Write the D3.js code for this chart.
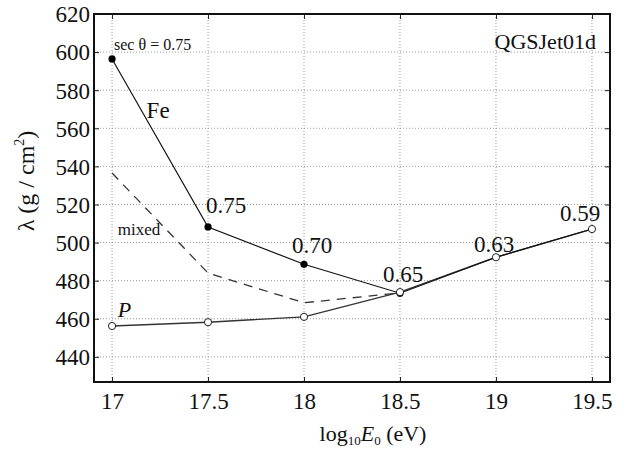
<!DOCTYPE html>
<html>
<head>
<meta charset="utf-8">
<script src="https://cdn.jsdelivr.net/npm/d3@7"></script>
<style>
  body { margin: 0; background: #fff; }
  svg text { font-family: "Liberation Serif", "Times New Roman", Times, Tinos, "Nimbus Roman", "Nimbus Roman No9 L", FreeSerif, "DejaVu Serif", serif !important; fill: #111; }
</style>
</head>
<body>
<script>
// Chart data
const energies = [17, 17.5, 18, 18.5, 19, 19.5];
const feValues = [596.4, 508.2, 488.6, 473.4, 492.3, 507.1];
const pValues = [456.2, 458.2, 461.0, 474.0, 492.3, 507.1];
const mixedE = [17, 17.5, 18, 18.5];
const mixedValues = [536.5, 484.0, 468.4, 473.6];
const secLabels = ["0.75", "0.75", "0.70", "0.65", "0.63", "0.59"];
const xTicks = [17, 17.5, 18, 18.5, 19, 19.5];
const yTicks = [440, 460, 480, 500, 520, 540, 560, 580, 600, 620];

const width = 623, height = 449;
const margin = {top: 14, right: 13, bottom: 67, left: 94};
const iw = width - margin.left - margin.right;
const ih = height - margin.top - margin.bottom;

const svg = d3.select("body").append("svg")
    .attr("width", width)
    .attr("height", height);

const g = svg.append("g").attr("transform", `translate(${margin.left},${margin.top})`);

const x = d3.scaleLinear().domain([16.906, 19.594]).range([0, iw]);
const y = d3.scaleLinear().domain([426.8, 620]).range([ih, 0]);

// dotted grid
g.append("g").selectAll("line")
    .data(xTicks).enter().append("line")
    .attr("x1", d => x(d)).attr("x2", d => x(d))
    .attr("y1", 0).attr("y2", ih)
    .attr("stroke", "#9a9a9a").attr("stroke-width", 1)
    .attr("stroke-dasharray", "1,2");
g.append("g").selectAll("line")
    .data(yTicks).enter().append("line")
    .attr("x1", 0).attr("x2", iw)
    .attr("y1", d => y(d)).attr("y2", d => y(d))
    .attr("stroke", "#9a9a9a").attr("stroke-width", 1)
    .attr("stroke-dasharray", "1,2");

// axes with inward ticks
const xAxis = g.append("g").attr("transform", `translate(0,${ih})`)
    .call(d3.axisBottom(x).tickValues(xTicks).tickFormat(d3.format("")).tickSize(-5).tickPadding(11));
const yAxis = g.append("g")
    .call(d3.axisLeft(y).tickValues(yTicks).tickFormat(d3.format("")).tickSize(-5).tickPadding(4));
g.append("g").call(d3.axisTop(x).tickValues(xTicks).tickFormat("").tickSize(-5));
g.append("g").attr("transform", `translate(${iw},0)`)
    .call(d3.axisRight(y).tickValues(yTicks).tickFormat("").tickSize(-5));

g.selectAll(".domain").remove();
g.selectAll(".tick line").attr("stroke", "#222");
xAxis.selectAll("text").attr("font-size", 23);
yAxis.selectAll("text").attr("font-size", 23).attr("dy", "0.34em");

// frame
g.append("rect")
    .attr("width", iw).attr("height", ih)
    .attr("fill", "none").attr("stroke", "#111").attr("stroke-width", 2);

const line = d3.line().x(d => x(d[0])).y(d => y(d[1]));

// mixed (dashed)
g.append("path")
    .datum(mixedE.map((e, i) => [e, mixedValues[i]]))
    .attr("d", line)
    .attr("fill", "none").attr("stroke", "#333").attr("stroke-width", 1.3)
    .attr("stroke-dasharray", "9,7");

// proton
g.append("path")
    .datum(energies.map((e, i) => [e, pValues[i]]))
    .attr("d", line)
    .attr("fill", "none").attr("stroke", "#333").attr("stroke-width", 1.4);

// iron
g.append("path")
    .datum(energies.map((e, i) => [e, feValues[i]]))
    .attr("d", line)
    .attr("fill", "none").attr("stroke", "#111").attr("stroke-width", 1.2);

// iron markers (filled) up to 18.5
g.selectAll("circle.fe")
    .data(energies.slice(0, 4).map((e, i) => [e, feValues[i]]))
    .enter().append("circle")
    .attr("class", "fe")
    .attr("cx", d => x(d[0])).attr("cy", d => y(d[1]))
    .attr("r", 3.6).attr("fill", "#000");

// proton markers (open)
g.selectAll("circle.p")
    .data(energies.map((e, i) => [e, pValues[i]]))
    .enter().append("circle")
    .attr("class", "p")
    .attr("cx", d => x(d[0])).attr("cy", d => y(d[1]))
    .attr("r", 3.6).attr("fill", "#fff").attr("stroke", "#222").attr("stroke-width", 1);

// sec theta labels
const secPos = [
  {dx: 2, dy: -9},
  {dx: -2, dy: -14},
  {dx: -12, dy: -11},
  {dx: -17, dy: -10},
  {dx: -22, dy: -5},
  {dx: -32, dy: -8}
];
g.selectAll("text.sec")
    .data(secLabels.slice(1))
    .enter().append("text")
    .attr("class", "sec")
    .attr("x", (d, i) => x(energies[i + 1]) + secPos[i + 1].dx)
    .attr("y", (d, i) => y(Math.max(feValues[i + 1], pValues[i + 1])) + secPos[i + 1].dy)
    .attr("font-size", 23)
    .text(d => d);

g.append("text")
    .attr("x", x(17) + 2).attr("y", y(feValues[0]) - 9)
    .attr("font-size", 16)
    .text("sec θ = " + secLabels[0]);

g.append("text").attr("x", x(17.18)).attr("y", y(565.5))
    .attr("font-size", 23).text("Fe");
g.append("text").attr("x", x(17.03)).attr("y", y(504))
    .attr("font-size", 17).text("mixed");
g.append("text").attr("x", x(17.03)).attr("y", y(461))
    .attr("font-size", 22).attr("font-style", "italic").text("P");
g.append("text").attr("x", iw - 14).attr("y", y(601.5))
    .attr("text-anchor", "end")
    .attr("font-size", 22).text("QGSJet01d");

// axis titles
const xt = svg.append("text")
    .attr("x", 373).attr("y", 441)
    .attr("text-anchor", "middle")
    .attr("font-size", 22);
xt.append("tspan").text("log");
xt.append("tspan").attr("font-size", 13).attr("dy", 4).text("10");
xt.append("tspan").attr("font-style", "italic").attr("dy", -4).text("E");
xt.append("tspan").attr("font-size", 13).attr("dy", 4).text("0");
xt.append("tspan").attr("dy", -4).text(" (eV)");

const yt = svg.append("text")
    .attr("transform", "translate(34,181) rotate(-90)")
    .attr("text-anchor", "middle")
    .attr("font-size", 24);
yt.append("tspan").text("λ (g / cm");
yt.append("tspan").attr("font-size", 14).attr("dy", -10).text("2");
yt.append("tspan").attr("dy", 10).text(")");
</script>
</body>
</html>
